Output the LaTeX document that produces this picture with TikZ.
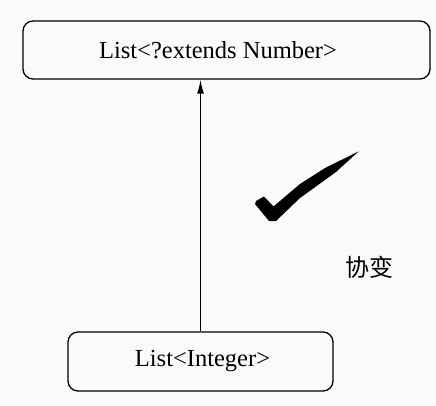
\documentclass[tikz,border=0pt]{standalone}
\usepackage{fontspec}
\setmainfont{Liberation Serif}
\newfontfamily\cjk{Noto Sans CJK SC}
\usetikzlibrary{arrows.meta}
\definecolor{paper}{RGB}{250,250,250}
\tikzset{
  typebox/.style={draw,rounded corners=10pt,line width=1.3pt,
    font=\fontsize{24.5}{28}\selectfont,inner sep=0pt}
}
\begin{document}
\begin{tikzpicture}[x=1pt,y=-1pt,>={Latex[length=14pt,width=7pt]}]
\fill[paper] (0,0) rectangle (436,406);
\useasboundingbox (0,0) rectangle (436,406);
\node[typebox,minimum width=407pt,minimum height=58pt] (wild) at (226.5,50)
  {List<?extends Number>\kern17pt};
\node[typebox,minimum width=265pt,minimum height=59pt] (ints) at (200.5,361.5)
  {List<Integer>\kern-4pt};
% 协变箭头
\draw[->,line width=1.4pt] (ints.north) -- (ints.north |- wild.south);
% 对勾
\fill[black] (256,201) -- (264,196.5) -- (273.5,206.5) -- (300,184) -- (325,168)
  -- (358.5,151.5) -- (336,172) -- (300,198) -- (276,221) -- (269,221)
  -- (255,204) -- cycle;
\node[font=\cjk\fontsize{24}{28}\selectfont] (cov) at (369,267) {协变};
\end{tikzpicture}
\end{document}
